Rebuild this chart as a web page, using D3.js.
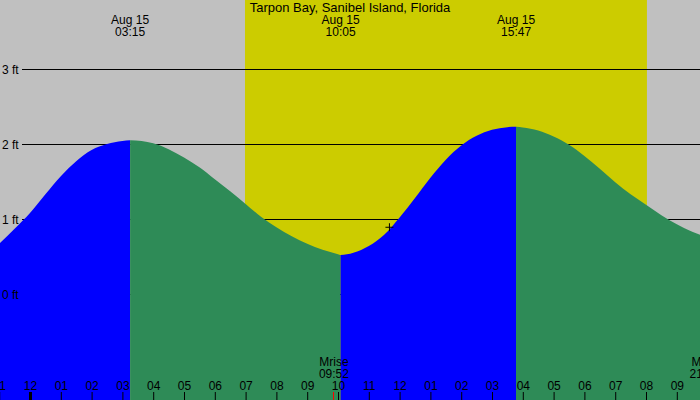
<!DOCTYPE html>
<html><head><meta charset="utf-8">
<script src="https://cdn.jsdelivr.net/npm/d3@7"></script>
<style>
html,body{margin:0;padding:0;background:#fff;}
svg{display:block;font-family:"Liberation Sans",Arial,sans-serif;font-size:12px;}
</style></head>
<body>
<svg id="chart" width="700" height="400"></svg>
<script>
// ---- data (hours relative to midnight Aug 15; heights in ft) ----
const title = "Tarpon Bay, Sanibel Island, Florida";
const tideHours   = [-0.974, -0.5, 0, 0.5, 1, 1.5, 2, 2.5, 3, 3.25, 4, 4.5, 5, 5.5, 6, 6.5, 7, 7.5, 8, 8.5, 9, 9.5, 10, 10.083,
                     10.5, 11, 11.5, 12, 12.5, 13, 13.5, 14, 14.5, 15, 15.5, 15.783, 16, 16.5, 17, 17.5, 18, 18.5, 19, 19.5, 20, 20.5, 21, 21.5, 21.753];
const tideHeights = [0.68, 0.87, 1.08, 1.33, 1.57, 1.77, 1.92, 2.00, 2.04, 2.05, 2.01, 1.93, 1.82, 1.69, 1.53, 1.37, 1.20, 1.03, 0.89, 0.77, 0.67, 0.59, 0.53, 0.52,
                     0.55, 0.64, 0.79, 1.02, 1.28, 1.55, 1.79, 1.98, 2.11, 2.19, 2.225, 2.23, 2.22, 2.18, 2.10, 1.99, 1.84, 1.67, 1.49, 1.33, 1.19, 1.05, 0.93, 0.83, 0.79];
const extremeHours  = [3.25, 10.083, 15.783];
const extremeDates  = ["Aug 15", "Aug 15", "Aug 15"];
const extremeLabels = ["03:15", "10:05", "15:47"];
const sunriseHour = 6.98, sunsetHour = 20.03;
const hourTicks  = [-1,0,1,2,3,4,5,6,7,8,9,10,11,12,13,14,15,16,17,18,19,20,21];
const hourLabels = ["11","12","01","02","03","04","05","06","07","08","09","10","11","12","01","02","03","04","05","06","07","08","09"];
const feetTicks  = [0, 1, 2, 3];
const feetLabels = ["0 ft", "1 ft", "2 ft", "3 ft"];
const moonEventHours  = [9.867, 21.9];
const moonEventNames  = ["Mrise", "Mset"];
const moonEventLabels = ["09:52", "21:54"];
const markerHour = 11.67, markerHeight = 0.89;

// ---- layout ----
const W = 700, H = 400;
const svg = d3.select("#chart");
const x = d3.scaleLinear().domain([tideHours[0], tideHours[tideHours.length-1]]).range([0, W]);
const y = d3.scaleLinear().domain([0, 3]).range([294, 69]);

const GRAY = "#c0c0c0", YELLOW = "#cccc00", BLUE = "#0000ff", GREEN = "#2e8b57";

// night background and day band
svg.append("rect").attr("x",0).attr("y",0).attr("width",W).attr("height",H).attr("fill",GRAY);
svg.append("rect").attr("x",x(sunriseHour)).attr("y",0)
  .attr("width",x(sunsetHour)-x(sunriseHour)).attr("height",H).attr("fill",YELLOW);

// grid lines (under the fill)
svg.append("g").selectAll("line").data(feetTicks).join("line")
  .attr("x1",22).attr("x2",W).attr("y1",d=>y(d)+0.5).attr("y2",d=>y(d)+0.5)
  .attr("stroke","#000").attr("stroke-width",1);

// tide area, split into rising (blue) and falling (green)
const pts = tideHours.map((h,i)=>[h, tideHeights[i]]);
const area = d3.area().x(d=>x(d[0])).y0(H).y1(d=>y(d[1])).curve(d3.curveMonotoneX);
const bounds = [tideHours[0], ...extremeHours, tideHours[tideHours.length-1]];
const defs = svg.append("defs");
for (let i=0;i<bounds.length-1;i++){
  const id = "seg"+i;
  defs.append("clipPath").attr("id",id).append("rect")
    .attr("x",x(bounds[i])).attr("y",0).attr("width",x(bounds[i+1])-x(bounds[i])).attr("height",H);
  svg.append("path").datum(pts).attr("d",area).attr("clip-path",`url(#${id})`)
    .attr("fill", i%2===0 ? BLUE : GREEN);
}

// marker
const mx = x(markerHour), my = y(markerHeight);
svg.append("path").attr("d",`M${mx-4},${my}H${mx+4}M${mx},${my-4}V${my+4}`)
  .attr("stroke","#000").attr("stroke-width",1).attr("fill","none");

// y labels
svg.append("g").selectAll("text").data(feetTicks).join("text")
  .attr("x",2).attr("y",d=>y(d)+4.5).attr("fill","#000")
  .text((d,i)=>feetLabels[i]);

// bottom hour axis
const axis = d3.axisTop(x).tickValues(hourTicks).tickSize(8).tickPadding(2)
  .tickFormat((d,i)=>hourLabels[i]);
const gAx = svg.append("g").attr("transform",`translate(0,${H})`).call(axis);
gAx.select(".domain").remove();
gAx.selectAll("text").attr("font-family","Liberation Sans, Arial, sans-serif").attr("font-size",12).attr("fill","#000");
gAx.selectAll(".tick line").attr("stroke","#000").attr("stroke-width",d=>d===0?3:1);

// moon events
svg.append("g").selectAll("line").data(moonEventHours).join("line")
  .attr("x1",d=>Math.round(x(d))-0.5).attr("x2",d=>Math.round(x(d))-0.5).attr("y1",392).attr("y2",H)
  .attr("stroke","#ff0000").attr("stroke-width",1);
const gm = svg.append("g").attr("text-anchor","middle").attr("fill","#000");
moonEventHours.forEach((h,i)=>{
  gm.append("text").attr("x",x(h)).attr("y",366).text(moonEventNames[i]);
  gm.append("text").attr("x",x(h)).attr("y",378).text(moonEventLabels[i]);
});

// extreme labels
const ge = svg.append("g").attr("text-anchor","middle").attr("fill","#000");
extremeHours.forEach((h,i)=>{
  ge.append("text").attr("x",x(h)).attr("y",24).text(extremeDates[i]);
  ge.append("text").attr("x",x(h)).attr("y",36).text(extremeLabels[i]);
});

// title
svg.append("text").attr("x",W/2).attr("y",12).attr("text-anchor","middle").attr("font-size",13)
  .attr("fill","#000").text(title);
</script>
</body></html>
